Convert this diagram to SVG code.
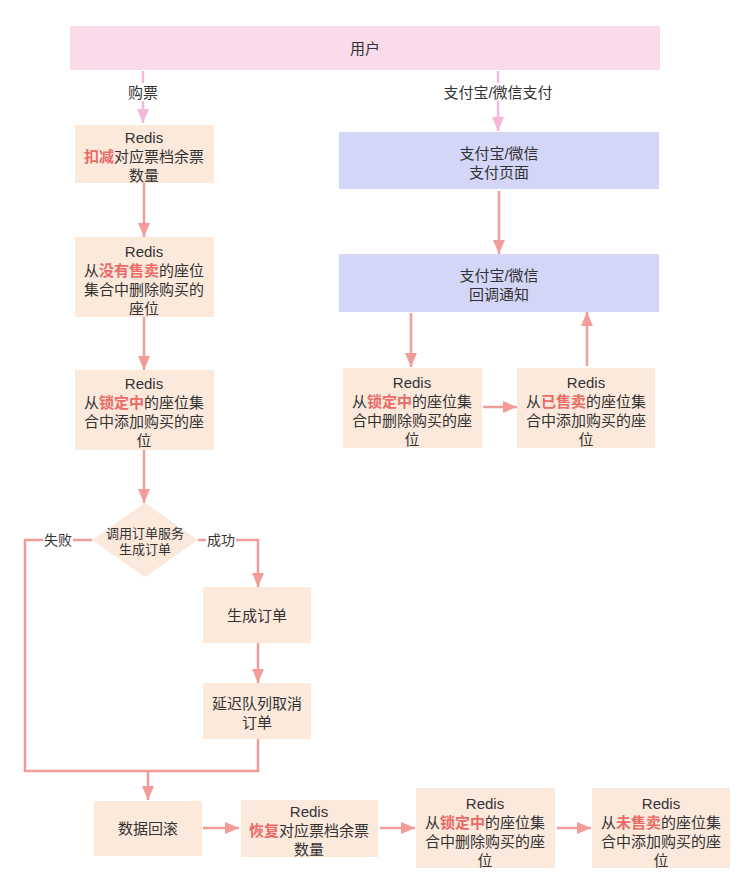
<svg xmlns="http://www.w3.org/2000/svg" width="756" height="894" viewBox="0 0 756 894">
<style>
text{font-family:"Liberation Sans","Noto Sans CJK SC",sans-serif;font-size:15px;fill:#333333;text-anchor:middle;dominant-baseline:central}
.sm{font-size:13px}
.lb{font-size:14px}
.hl{fill:#ea6b66;font-weight:bold}
.box{fill:#fbe9dc}
.blue{fill:#d4d6f7}
.pink{fill:#f9dbea}
.ln{fill:none;stroke:#f19c99;stroke-width:2.5}
.pl{fill:none;stroke:#f5b8dc;stroke-width:2.5}
.bg{fill:#ffffff}
</style>
<defs>
<marker id="ar" viewBox="0 0 14 12" refX="14" refY="6" markerWidth="14" markerHeight="12" orient="auto" markerUnits="userSpaceOnUse"><path d="M0,0 L14,6 L0,12 z" fill="#f19c99"/></marker>
<marker id="ap" viewBox="0 0 14 12" refX="14" refY="6" markerWidth="14" markerHeight="12" orient="auto" markerUnits="userSpaceOnUse"><path d="M0,0 L14,6 L0,12 z" fill="#f5b8dc"/></marker>
</defs>
<rect width="756" height="894" fill="#ffffff"/>
<g id="connectors">
<path class="pl" d="M143,71 V123" marker-end="url(#ap)"/>
<path class="pl" d="M498,71 V131" marker-end="url(#ap)"/>
<path class="ln" d="M144,183 V237" marker-end="url(#ar)"/>
<path class="ln" d="M144,317 V370" marker-end="url(#ar)"/>
<path class="ln" d="M144,450 V503" marker-end="url(#ar)"/>
<path class="ln" d="M92,540 H25 V771 H148 V800" marker-end="url(#ar)"/>
<path class="ln" d="M258,739 V771 H148"/>
<path class="ln" d="M198,540 H258 V587" marker-end="url(#ar)"/>
<path class="ln" d="M258,643 V683" marker-end="url(#ar)"/>
<path class="ln" d="M203,828 H239" marker-end="url(#ar)"/>
<path class="ln" d="M380,828 H415" marker-end="url(#ar)"/>
<path class="ln" d="M557,828 H591" marker-end="url(#ar)"/>
<path class="ln" d="M499,191 V254" marker-end="url(#ar)"/>
<path class="ln" d="M411,313 V367" marker-end="url(#ar)"/>
<path class="ln" d="M483,407 H517" marker-end="url(#ar)"/>
<path class="ln" d="M587,366 V312" marker-end="url(#ar)"/>
<rect class="bg" x="126" y="83" width="34" height="18"/>
<text x="143" y="92">购票</text>
<rect class="bg" x="441" y="83" width="114" height="18"/>
<text x="498" y="92">支付宝/微信支付</text>
<rect class="bg" x="43" y="532" width="30" height="17"/>
<text class="lb" x="58" y="540">失败</text>
<rect class="bg" x="206" y="532" width="30" height="17"/>
<text class="lb" x="221" y="540">成功</text>
</g>
<g id="user"><rect class="pink" x="70" y="26" width="590" height="44"/><text x="365" y="48">用户</text></g>
<g id="n1"><rect class="box" x="75" y="125" width="139" height="58"/>
<text x="144" y="137">Redis</text>
<text x="144" y="156"><tspan class="hl">扣减</tspan>对应票档余票</text>
<text x="144" y="175">数量</text></g>
<g id="n2"><rect class="box" x="75" y="237" width="139" height="80"/>
<text x="144" y="251">Redis</text>
<text x="144" y="270">从<tspan class="hl">没有售卖</tspan>的座位</text>
<text x="144" y="289">集合中删除购买的</text>
<text x="144" y="308">座位</text></g>
<g id="n3"><rect class="box" x="75" y="370" width="139" height="80"/>
<text x="144" y="383">Redis</text>
<text x="144" y="402">从<tspan class="hl">锁定中</tspan>的座位集</text>
<text x="144" y="421">合中添加购买的座</text>
<text x="144" y="440">位</text></g>
<g id="decision"><path d="M145,503 L198,540 L145,577 L92,540 Z" fill="#fbe9dc"/>
<text class="sm" x="145" y="533">调用订单服务</text>
<text class="sm" x="145" y="549">生成订单</text></g>
<g id="order"><rect class="box" x="203" y="587" width="108" height="56"/><text x="257" y="615">生成订单</text></g>
<g id="delay"><rect class="box" x="203" y="683" width="108" height="56"/>
<text x="257" y="703">延迟队列取消</text>
<text x="257" y="722">订单</text></g>
<g id="rollback"><rect class="box" x="94" y="801" width="108" height="55"/><text x="148" y="828">数据回滚</text></g>
<g id="restore"><rect class="box" x="241" y="800" width="137" height="57"/>
<text x="309" y="811">Redis</text>
<text x="309" y="830"><tspan class="hl">恢复</tspan>对应票档余票</text>
<text x="309" y="849">数量</text></g>
<g id="dellock"><rect class="box" x="416" y="788" width="139" height="80"/>
<text x="485" y="803">Redis</text>
<text x="485" y="822">从<tspan class="hl">锁定中</tspan>的座位集</text>
<text x="485" y="841">合中删除购买的座</text>
<text x="485" y="860">位</text></g>
<g id="addunsold"><rect class="box" x="592" y="788" width="138" height="80"/>
<text x="661" y="803">Redis</text>
<text x="661" y="822">从<tspan class="hl">未售卖</tspan>的座位集</text>
<text x="661" y="841">合中添加购买的座</text>
<text x="661" y="860">位</text></g>
<g id="paypage"><rect class="blue" x="339" y="132" width="320" height="57"/>
<text x="499" y="153">支付宝/微信</text>
<text x="499" y="172">支付页面</text></g>
<g id="callback"><rect class="blue" x="339" y="254" width="320" height="58"/>
<text x="499" y="275">支付宝/微信</text>
<text x="499" y="294">回调通知</text></g>
<g id="rlock"><rect class="box" x="343" y="368" width="139" height="80"/>
<text x="412" y="382">Redis</text>
<text x="412" y="401">从<tspan class="hl">锁定中</tspan>的座位集</text>
<text x="412" y="420">合中删除购买的座</text>
<text x="412" y="439">位</text></g>
<g id="rsold"><rect class="box" x="517" y="368" width="138" height="80"/>
<text x="586" y="382">Redis</text>
<text x="586" y="401">从<tspan class="hl">已售卖</tspan>的座位集</text>
<text x="586" y="420">合中添加购买的座</text>
<text x="586" y="439">位</text></g>
</svg>
